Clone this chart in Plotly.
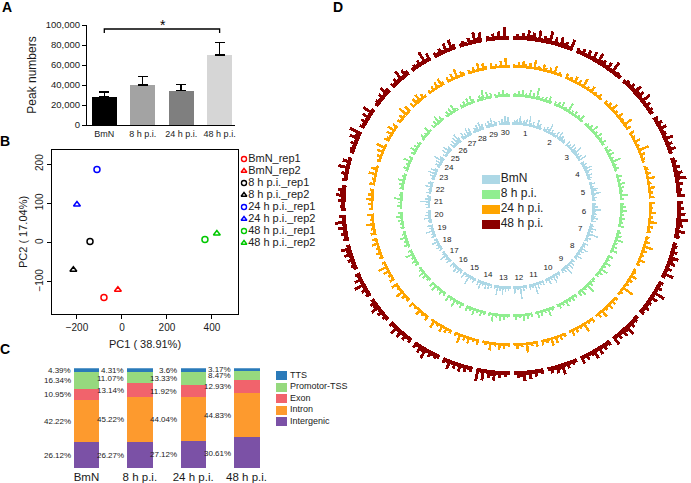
import plotly.graph_objects as go

W, H = 691, 483

# ---------------- Panel A data ----------------
a_labels = ["BmN", "8 h p.i.", "24 h p.i.", "48 h p.i."]
peak_mean = [28000, 40000, 34500, 69800]
peak_err = [5000, 8500, 5800, 12500]
a_colors = ["#000000", "#a3a3a3", "#7f7f7f", "#d6d6d6"]
sig_pair = [0, 3]
sig_bracket_y = [92000, 96000]

# ---------------- Panel B data ----------------
pca_labels = ["BmN_rep1", "BmN_rep2", "8 h p.i._rep1", "8 h p.i._rep2",
              "24 h p.i._rep1", "24 h p.i._rep2", "48 h p.i._rep1", "48 h p.i._rep2"]
pc1 = [-80, -18, -142, -216, -111, -200, 369, 422]
pc2 = [-140, -120, 3, -69, 186, 97, 8, 23]
pca_colors = ["#ff0000", "#ff0000", "#000000", "#000000",
              "#0000ff", "#0000ff", "#00c800", "#00c800"]
pca_symbols = ["circle-open", "triangle-up-open"] * 4

# ---------------- Panel C data ----------------
c_groups = ["BmN", "8 h p.i.", "24 h p.i.", "48 h p.i."]
c_feats = ["Intergenic", "Intron", "Exon", "Promotor-TSS", "TTS"]
intergenic = [26.12, 26.27, 27.12, 30.61]
intron = [42.22, 45.22, 44.04, 44.83]
exon = [10.95, 13.14, 11.92, 12.93]
promoter = [16.34, 11.07, 13.33, 8.47]
tts = [4.39, 4.31, 3.6, 3.17]
c_colors = ["#7b51a6", "#fd9a2e", "#f1636c", "#96d97e", "#2a7ab9"]

# ---------------- Panel D data ----------------
chrom_names = [str(i) for i in range(1, 31)]
chrom_sizes = [23.5, 20, 17, 15.5, 15.5, 14.5, 14.5, 14.5, 13, 13, 12, 11.5, 13, 12, 11,
               10.5, 10, 10, 10, 10, 10, 9.5, 9, 8.5, 8, 8.5, 8.5, 9, 9, 9]
ring_names = ["BmN", "8 h p.i.", "24 h p.i.", "48 h p.i."]
ring_colors = ["#add8e6", "#90ee90", "#ffa500", "#8b0000"]
bmn_bins = ["1223152132416213115231", "213261312141523121", "312141326121315",
            "21312514213121", "13121431621312", "2131521312413", "1214131721312",
            "3121513121412", "213141261312", "121315121412", "31214171213", "2131812141",
            "121315131612", "21314121513", "1312161214", "213141213", "131215121",
            "213121412", "312151213", "121413121", "213161312", "31214132", "21315142",
            "13141623", "2141523", "31415263", "24131524", "13241523", "31425132", "21315241"]
hpi8_bins = ["1213141215131721213141", "213141216121312141", "121315121412131",
             "21314121612131", "13121413121512", "2131412131213", "1213151213141",
             "3121412151312", "121316121413", "213121412131", "12151213141", "2131412131",
             "121314121512", "21312141213", "1312151214", "213121413", "121314121",
             "213121512", "131214121", "212131412", "131215121", "21314121", "13121512",
             "21413121", "1312141", "21315131", "13141521", "21314152", "13261413", "21314121"]
hpi24_bins = ["2131421316121421315121", "312141316121412131", "213151214121613",
              "31214121713121", "12131512141213", "3121412151312", "2131613121412",
              "1214131218121", "213141215131", "312161213141", "21314151213", "3121612131",
              "213141215121", "31214131612", "2131412151", "312141213", "213151214",
              "312141612", "213121413", "312151214", "213141312", "31215141", "21314161",
              "32141513", "2131614", "31425131", "21314152", "31416132", "21315142", "31214161"]
hpi48_bins = ["2324263527243825263427", "324252627342528232", "232426352724232",
              "32425232624252", "23242537242325", "3242527342623", "2324263524272",
              "3242825232423", "232427352426", "324252632425", "23242735242", "3242526342",
              "232426352728", "32425242623", "2324273524", "324252623", "232426342",
              "324272523", "232425362", "324252724", "232426352", "32427252", "23242638",
              "32425272", "2324263", "32427253", "23242825", "32426273", "23242736", "32425282"]
ring_bins = [bmn_bins, hpi8_bins, hpi24_bins, hpi48_bins]
ring_radius = [81, 109, 138, 166]


def px_x(p):
    return p / W


def px_y(p):
    return 1 - p / H


FONT = "Liberation Sans, Arial, sans-serif"
fig = go.Figure()

# ---------- Panel A ----------
fig.add_trace(go.Bar(
    x=list(range(4)), y=peak_mean, width=0.65, marker=dict(color=a_colors, line=dict(width=0)),
    error_y=dict(type="data", symmetric=False, array=peak_err, arrayminus=[0] * 4,
                 color="black", thickness=1.5, width=5),
    xaxis="x", yaxis="y", showlegend=False, hoverinfo="skip"))
fig.add_trace(go.Scatter(
    x=[sig_pair[0], sig_pair[0], sig_pair[1], sig_pair[1]],
    y=[sig_bracket_y[0], sig_bracket_y[1], sig_bracket_y[1], sig_bracket_y[0]],
    mode="lines", line=dict(color="black", width=1.3), xaxis="x", yaxis="y",
    showlegend=False, hoverinfo="skip"))

# ---------- Panel B ----------
fig.add_trace(go.Scatter(
    x=pc1, y=pc2, mode="markers",
    marker=dict(symbol=pca_symbols, color=pca_colors, size=6, line=dict(width=1.5)),
    xaxis="x2", yaxis="y2", showlegend=False, hoverinfo="skip"))
# legend for B (hidden axis)
fig.add_trace(go.Scatter(
    x=[6] * len(pca_labels), y=list(range(len(pca_labels))), mode="markers+text",
    text=pca_labels, textposition="middle right",
    textfont=dict(size=11, color="#222222", family=FONT),
    marker=dict(symbol=pca_symbols, color=pca_colors, size=5, line=dict(width=1.4)),
    xaxis="x4", yaxis="y4", showlegend=False, hoverinfo="skip", cliponaxis=False))

# ---------- Panel C ----------
c_series = [intergenic, intron, exon, promoter, tts]
for name, vals, col in zip(c_feats, c_series, c_colors):
    fig.add_trace(go.Bar(
        x=list(range(4)), y=vals, name=name, width=0.48,
        marker=dict(color=col, line=dict(width=0)),
        xaxis="x3", yaxis="y3", showlegend=False, hoverinfo="skip"))

annotations = []
for i in range(4):
    cum = 0.0
    for vals in c_series:
        v = vals[i]
        annotations.append(dict(
            x=i - 0.24, y=cum + v / 2, xref="x3", yref="y3", text=f"{v:g}%",
            showarrow=False, xanchor="right", yanchor="middle", xshift=-1,
            font=dict(size=8, color="#222222", family=FONT)))
        cum += v

# legend for C (hidden axis)
leg_order = list(range(len(c_feats)))[::-1]
fig.add_trace(go.Bar(
    y=list(range(len(c_feats))), x=[11] * len(c_feats), base=0, orientation="h", width=0.78,
    marker=dict(color=[c_colors[k] for k in leg_order], line=dict(width=0)),
    xaxis="x5", yaxis="y5", showlegend=False, hoverinfo="skip"))
fig.add_trace(go.Scatter(
    x=[14] * len(c_feats), y=list(range(len(c_feats))), mode="text",
    text=[c_feats[k] for k in leg_order], textposition="middle right",
    textfont=dict(size=9, color="#222222", family=FONT),
    xaxis="x5", yaxis="y5", showlegend=False, hoverinfo="skip", cliponaxis=False))

# ---------- Panel D ----------
GAP = 1.4
scale = (360 - GAP * len(chrom_sizes)) / sum(chrom_sizes)
chrom_centers = []
start = GAP / 2
for size in chrom_sizes:
    span = size * scale
    chrom_centers.append(start + span / 2)
    start += span + GAP

for bins, base_r, col in zip(ring_bins, ring_radius, ring_colors):
    theta, widths, rr = [], [], []
    start = GAP / 2
    for size, g in zip(chrom_sizes, bins):
        span = size * scale
        w = span / len(g)
        for k, ch in enumerate(g):
            theta.append(start + (k + 0.5) * w)
            widths.append(w * 1.0)
            rr.append(int(ch) * 1.5 + 1.2)
        start += span + GAP
    fig.add_trace(go.Barpolar(
        theta=theta, r=rr, base=base_r, width=widths,
        marker=dict(color=col, line=dict(width=0)),
        subplot="polar", showlegend=False, hoverinfo="skip"))

fig.add_trace(go.Scatterpolar(
    r=[73] * len(chrom_names), theta=chrom_centers, text=chrom_names, mode="text",
    textfont=dict(size=8, color="#222222", family=FONT),
    subplot="polar", showlegend=False, hoverinfo="skip"))

# legend for D (hidden axis in the middle)
fig.add_trace(go.Bar(
    y=list(range(4)), x=[17.6] * 4, base=0, orientation="h", width=0.55,
    marker=dict(color=ring_colors, line=dict(width=0)),
    xaxis="x6", yaxis="y6", showlegend=False, hoverinfo="skip"))
fig.add_trace(go.Scatter(
    x=[19] * 4, y=list(range(4)), mode="text", text=ring_names, textposition="middle right",
    textfont=dict(size=12, color="#222222", family=FONT),
    xaxis="x6", yaxis="y6", showlegend=False, hoverinfo="skip", cliponaxis=False))

# ---------- annotations ----------
annotations.append(dict(x=1.52, y=100000, xref="x", yref="y", text="*", showarrow=False,
                        font=dict(size=14, color="black", family=FONT), yanchor="middle"))
for lab, (xx, yy) in zip("ABCD", [(7, 7), (5, 141), (5, 349), (338, 7)]):
    annotations.append(dict(x=px_x(xx), y=px_y(yy), xref="paper", yref="paper",
                            text=f"<b>{lab}</b>", showarrow=False, xanchor="center",
                            yanchor="middle", font=dict(size=14, color="black", family=FONT)))

hidden = dict(visible=False, showgrid=False, zeroline=False, fixedrange=True)

fig.update_layout(
    width=W, height=H, autosize=False, template="none",
    margin=dict(l=0, r=0, t=0, b=0),
    paper_bgcolor="white", plot_bgcolor="rgba(0,0,0,0)",
    font=dict(family=FONT, color="#1a1a1a"),
    barmode="stack", bargap=0,
    annotations=annotations,
    # Panel A
    xaxis=dict(domain=[px_x(87), px_x(235)], range=[-0.45, 3.4], tickvals=list(range(4)),
               ticktext=a_labels, showline=True, linecolor="black", linewidth=1.2,
               ticks="", tickfont=dict(size=9), showgrid=False, zeroline=False,
               anchor="y", fixedrange=True),
    yaxis=dict(domain=[px_y(125), px_y(25)], range=[0, 100000],
               tickvals=[0, 20000, 40000, 60000, 80000, 100000], tickformat=",",
               ticks="outside", ticklen=4, tickwidth=1, tickcolor="black",
               showline=True, linecolor="black", linewidth=1.2, tickfont=dict(size=9.5),
               title=dict(text="Peak numbers", font=dict(size=12), standoff=6),
               showgrid=False, zeroline=False, anchor="x", fixedrange=True),
    # Panel B
    xaxis2=dict(domain=[px_x(52), px_x(238)], range=[-311, 516], tickvals=[-200, 0, 200, 400],
                ticks="outside", ticklen=4, tickcolor="black", showline=True, mirror=True,
                linecolor="black", linewidth=1.2, tickfont=dict(size=10),
                title=dict(text="PC1 ( 38.91%)", font=dict(size=11), standoff=8),
                showgrid=False, zeroline=False, anchor="y2", fixedrange=True),
    yaxis2=dict(domain=[px_y(314), px_y(150)], range=[-182, 236], tickvals=[-100, 0, 100, 200],
                ticks="outside", ticklen=4, tickcolor="black", showline=True, mirror=True,
                linecolor="black", linewidth=1.2, tickfont=dict(size=10), tickangle=-90,
                title=dict(text="PC2 ( 17.04%)", font=dict(size=11), standoff=4),
                showgrid=False, zeroline=False, anchor="x2", fixedrange=True),
    # Panel C
    xaxis3=dict(domain=[px_x(59.8), px_x(273.2)], range=[-0.5, 3.5], tickvals=list(range(4)),
                ticktext=c_groups, showline=False, ticks="", tickfont=dict(size=11.5),
                showgrid=False, zeroline=False, anchor="y3", fixedrange=True),
    yaxis3=dict(domain=[px_y(468.3), px_y(368.3)], range=[0, 100], anchor="x3", **hidden),
    # legend axes
    xaxis4=dict(domain=[px_x(238), px_x(330)], range=[0, 92], anchor="y4", **hidden),
    yaxis4=dict(domain=[px_y(249), px_y(153)], range=[7.5, -0.5], anchor="x4", **hidden),
    xaxis5=dict(domain=[px_x(276), px_x(360)], range=[0, 84], anchor="y5", **hidden),
    yaxis5=dict(domain=[px_y(427), px_y(369.5)], range=[4.5, -0.5], anchor="x5", **hidden),
    xaxis6=dict(domain=[px_x(481.7), px_x(580)], range=[0, 98.3], anchor="y6", **hidden),
    yaxis6=dict(domain=[px_y(231.5), px_y(171.5)], range=[3.5, -0.5], anchor="x6", **hidden),
    # Panel D
    polar=dict(domain=dict(x=[px_x(331.5), 1.0], y=[px_y(385.5), px_y(25.5)]),
               bgcolor="rgba(0,0,0,0)",
               radialaxis=dict(visible=False, range=[0, 180]),
               angularaxis=dict(visible=False, rotation=90, direction="clockwise")),
)

fig.write_html("out.html", config={"displayModeBar": False},
               post_script="document.body.style.margin='0px';")
